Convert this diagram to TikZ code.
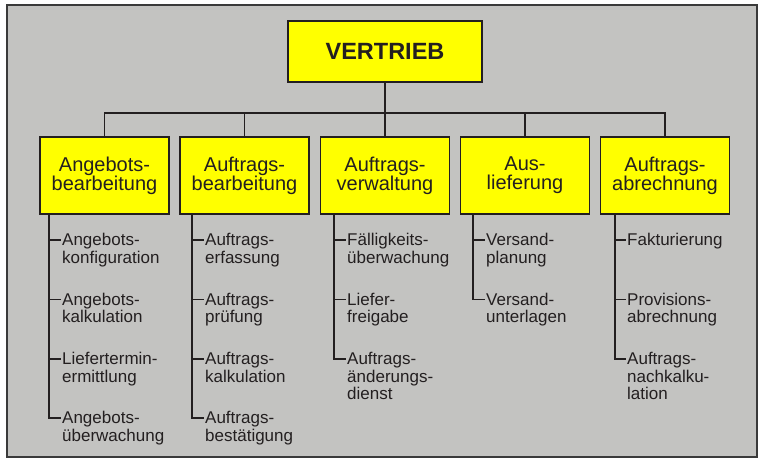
\documentclass[tikz,border=0pt]{standalone}
\usepackage{fontspec}
\setmainfont{Liberation Sans}
\usetikzlibrary{calc}
\definecolor{panel}{HTML}{C3C3C1}
\definecolor{framecol}{HTML}{3A3A3A}
\definecolor{ink}{HTML}{231F20}
\definecolor{boxfill}{HTML}{FFFF00}
\tikzset{
  unitbox/.style={draw=ink, line width=1.3pt, fill=boxfill, inner sep=0pt,
    minimum width=129pt, minimum height=77pt, align=center, text=ink,
    font=\fontsize{20}{19}\selectfont},
  topbox/.style={draw=ink, line width=1.3pt, fill=boxfill, inner sep=0pt,
    minimum width=194pt, minimum height=61pt, text=ink,
    font=\fontsize{23.5}{26}\selectfont\bfseries},
  taskitem/.style={anchor=base west, inner sep=0pt, text=ink,
    font=\fontsize{17}{16.7}\selectfont},
  wire/.style={draw=ink, line width=1.8pt},
}
\newcommand{\tasktext}[1]{\begin{tabular}[t]{@{}l@{}}#1\end{tabular}}
\begin{document}
\begin{tikzpicture}[x=1pt, y=-1pt]
  \useasboundingbox (0,0) rectangle (759,460);
  \fill[white] (0,0) rectangle (759,460);
  \draw[framecol, line width=1.5pt, fill=panel] (7,5) rectangle (757,457);

  % top unit
  \node[topbox] (v) at (385,51.5) {VERTRIEB};

  % second level units
  \node[unitbox] (b1) at (104.5,175.5) {Angebots-\\bearbeitung};
  \node[unitbox] (b2) at (244.5,175.5) {Auftrags-\\bearbeitung};
  \node[unitbox] (b3) at (385,175.5) {Auftrags-\\verwaltung};
  \node[unitbox] (b4) at (525,175.5) {Aus-\\lieferung};
  \node[unitbox] (b5) at (665,175.5) {Auftrags-\\abrechnung};

  % bus between the levels
  \coordinate (bus) at (385,113);
  \draw[wire] (v.south) -- (b3.north);
  \draw[wire] (b1.north) |- (bus) -| (b5.north);
  \draw[wire] (b2.north) -- (b2.north |- bus);
  \draw[wire] (b4.north) -- (b4.north |- bus);

  % trunk start points below each unit
  \coordinate (t1) at ($(b1.south west)+(10,0)$);
  \coordinate (t2) at ($(b2.south west)+(13,0)$);
  \coordinate (t3) at ($(b3.south west)+(14,0)$);
  \coordinate (t4) at ($(b4.south west)+(13,0)$);
  \coordinate (t5) at ($(b5.south west)+(15,0)$);

  % tasks
  \node[taskitem] (c11) at (62,245.7) {\tasktext{Angebots-\\konfiguration}};
  \node[taskitem] (c12) at (62,305.2) {\tasktext{Angebots-\\kalkulation}};
  \node[taskitem] (c13) at (62,364.7) {\tasktext{Liefertermin-\\ermittlung}};
  \node[taskitem] (c14) at (62,423.7) {\tasktext{Angebots-\\überwachung}};

  \node[taskitem] (c21) at (205,245.7) {\tasktext{Auftrags-\\erfassung}};
  \node[taskitem] (c22) at (205,305.2) {\tasktext{Auftrags-\\prüfung}};
  \node[taskitem] (c23) at (205,364.7) {\tasktext{Auftrags-\\kalkulation}};
  \node[taskitem] (c24) at (205,423.7) {\tasktext{Auftrags-\\bestätigung}};

  \node[taskitem] (c31) at (347,245.7) {\tasktext{Fälligkeits-\\überwachung}};
  \node[taskitem] (c32) at (347,305.2) {\tasktext{Liefer-\\freigabe}};
  \node[taskitem] (c33) at (347,364.7) {\tasktext{Auftrags-\\änderungs-\\dienst}};

  \node[taskitem] (c41) at (486,245.7) {\tasktext{Versand-\\planung}};
  \node[taskitem] (c42) at (486,305.2) {\tasktext{Versand-\\unterlagen}};

  \node[taskitem] (c51) at (627,245.7) {\tasktext{Fakturierung}};
  \node[taskitem] (c52) at (627,305.2) {\tasktext{Provisions-\\abrechnung}};
  \node[taskitem] (c53) at (627,364.7) {\tasktext{Auftrags-\\nachkalku-\\lation}};

  % tree connectors
  \foreach \t/\cs in {t1/{c11,c12,c13,c14}, t2/{c21,c22,c23,c24},
                      t3/{c31,c32,c33}, t4/{c41,c42}, t5/{c51,c52,c53}} {
    \foreach \c in \cs {
      \draw[wire] (\t) |- ($(\c.base west)+(-1,-5.7)$);
    }
  }
\end{tikzpicture}
\end{document}
